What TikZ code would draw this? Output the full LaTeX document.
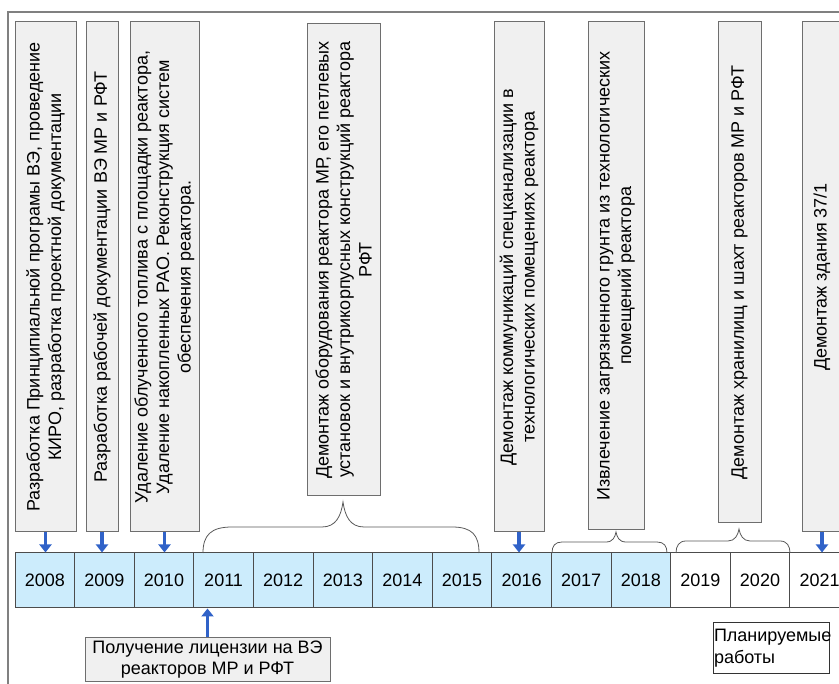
\documentclass[tikz,border=0pt]{standalone}
\usepackage{fontspec}
\setmainfont{Liberation Sans}
\usetikzlibrary{arrows.meta}

\definecolor{annofill}{RGB}{240,240,240}
\definecolor{annoline}{RGB}{110,110,110}
\definecolor{yearfill}{RGB}{204,236,252}
\definecolor{arrblue}{RGB}{48,98,200}
\definecolor{framegray}{RGB}{128,128,128}

\tikzset{
  txt/.style={font=\fontsize{18}{21.5}\selectfont},
  anno/.style={txt, draw=annoline, fill=annofill, line width=1pt, rotate=90, align=center, inner sep=0pt},
  year/.style={txt, draw=black!70, line width=1pt, minimum width=59.6pt, minimum height=55pt, inner sep=0pt},
  done/.style={year, fill=yearfill},
  todo/.style={year, fill=white},
  marrow/.style={arrblue, line width=3.6pt, -{Triangle[width=12pt,length=8pt]}},
  brace/.style={draw=black!65, line width=0.8pt},
}

\begin{document}
\begin{tikzpicture}[x=1pt, y=-1pt]
    \useasboundingbox (0,0) rectangle (839,684);

    % Рамка
    \draw[framegray, line width=1.5pt] (8,684) -- (8,12) -- (839,12);

    % Шкала лет
    \foreach \yr [count=\i from 0] in {2008,...,2018}
        \node[done] (y\yr) at ({15+59.6*(\i+0.5)}, 580.5) {\yr};
    \foreach \yr [count=\i from 11] in {2019,2020,2021}
        \node[todo] (y\yr) at ({15+59.6*(\i+0.5)}, 580.5) {\yr};

    % Работы (вертикальные блоки)
    \node[anno, minimum width=510pt, minimum height=61pt] (b1) at (45.5,277)
        {Разработка Принципиальной програмы ВЭ, проведение\\КИРО, разработка проектной документации};
    \node[anno, minimum width=510pt, minimum height=32pt] (b2) at (102,277)
        {Разработка рабочей документации ВЭ МР и РФТ};
    \node[anno, minimum width=510pt, minimum height=69pt] (b3) at (164.5,277)
        {Удаление облученного топлива с площадки реактора,\\Удаление накопленных РАО. Реконструкция систем\\обеспечения реактора.};
    \node[anno, minimum width=472pt, minimum height=73pt] (b4) at (343.5,260)
        {Демонтаж оборудования реактора МР, его петлевых\\установок и внутрикорпусных конструкций реактора\\РФТ};
    \node[anno, minimum width=510pt, minimum height=50pt] (b5) at (519,277)
        {Демонтаж коммуникаций спецканализации в\\технологических помещениях реактора};
    \node[anno, minimum width=508pt, minimum height=56pt] (b6) at (616,276)
        {Извлечение загрязненного грунта из технологических\\помещений реактора};
    \node[anno, minimum width=501pt, minimum height=43pt] (b7) at (739.5,272.5)
        {Демонтаж хранилищ и шахт реакторов МР и РФТ};
    \node[anno, minimum width=510pt, minimum height=40pt] (b8) at (822,277)
        {Демонтаж здания 37/1};

    % Стрелки к годам
    \draw[marrow] (b1.west) -- (b1.west |- y2008.north);
    \draw[marrow] (b2.west) -- (b2.west |- y2009.north);
    \draw[marrow] (b3.west) -- (b3.west |- y2010.north);
    \draw[marrow] (b5.west) -- (b5.west |- y2016.north);
    \draw[marrow] (b8.west) -- (b8.west |- y2021.north);

    % Скобки
    \draw[brace] (203,553) .. controls (203,535) and (211,527) .. (232,527) -- (322,527)
        .. controls (336,527) and (341,516) .. (343,502)
        .. controls (345,516) and (350,527) .. (364,527) -- (452,527)
        .. controls (472,527) and (479,535) .. (479,553);
    \draw[brace] (552,553) .. controls (552,546) and (555,542) .. (562,542) -- (606,542)
        .. controls (613,542) and (615,537) .. (616,532)
        .. controls (617,537) and (619,542) .. (626,542) -- (657,542)
        .. controls (664,542) and (667,546) .. (667,553);
    \draw[brace] (676,553) .. controls (676,546) and (679,541) .. (686,541) -- (728,541)
        .. controls (735,541) and (738,535) .. (739,529)
        .. controls (740,535) and (743,541) .. (750,541) -- (780,541)
        .. controls (787,541) and (790,546) .. (790,553);

    % Лицензия
    \node[txt, draw=annoline, fill=annofill, line width=1pt, align=center,
        minimum width=245pt, minimum height=43pt, inner sep=0pt] (lic) at (207.5,659.5)
        {Получение лицензии на ВЭ\\реакторов МР и РФТ};
    \draw[marrow] (lic.north) -- (lic.north |- y2011.south);

    % Легенда
    \node[txt, draw=black!80, fill=white, line width=1pt, align=left,
        text width=114pt, minimum height=50pt, inner sep=1pt] (legend) at (771,648)
        {Планируемые\\работы};
\end{tikzpicture}
\end{document}
